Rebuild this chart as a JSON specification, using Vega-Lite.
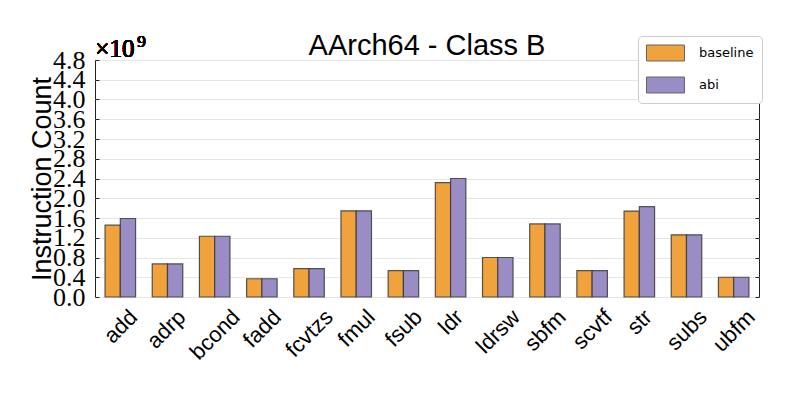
{
  "$schema": "https://vega.github.io/schema/vega-lite/v6.json",
  "autosize": {"type": "none"},
  "width": 664,
  "height": 237,
  "padding": {"left": 95, "top": 60, "right": 34, "bottom": 100},
  "background": "white",
  "title": {"text": "AArch64 - Class B", "font": "Liberation Sans", "fontSize": 29, "fontWeight": "normal", "color": "#000", "offset": 4, "anchor": "middle", "dy": 32},
  "config": {
    "view": {"stroke": "#222", "strokeWidth": 1},
    "axis": {"domainColor": "#222", "tickColor": "#222"}
  },
  "data": {"values": [
    {"op": "add", "config": "baseline", "count": 1454000000},
    {"op": "add", "config": "abi", "count": 1590000000},
    {"op": "adrp", "config": "baseline", "count": 670000000},
    {"op": "adrp", "config": "abi", "count": 670000000},
    {"op": "bcond", "config": "baseline", "count": 1230000000},
    {"op": "bcond", "config": "abi", "count": 1230000000},
    {"op": "fadd", "config": "baseline", "count": 370000000},
    {"op": "fadd", "config": "abi", "count": 370000000},
    {"op": "fcvtzs", "config": "baseline", "count": 575000000},
    {"op": "fcvtzs", "config": "abi", "count": 575000000},
    {"op": "fmul", "config": "baseline", "count": 1746000000},
    {"op": "fmul", "config": "abi", "count": 1746000000},
    {"op": "fsub", "config": "baseline", "count": 534000000},
    {"op": "fsub", "config": "abi", "count": 534000000},
    {"op": "ldr", "config": "baseline", "count": 2315000000},
    {"op": "ldr", "config": "abi", "count": 2400000000},
    {"op": "ldrsw", "config": "baseline", "count": 800000000},
    {"op": "ldrsw", "config": "abi", "count": 800000000},
    {"op": "sbfm", "config": "baseline", "count": 1480000000},
    {"op": "sbfm", "config": "abi", "count": 1480000000},
    {"op": "scvtf", "config": "baseline", "count": 534000000},
    {"op": "scvtf", "config": "abi", "count": 534000000},
    {"op": "str", "config": "baseline", "count": 1740000000},
    {"op": "str", "config": "abi", "count": 1830000000},
    {"op": "subs", "config": "baseline", "count": 1260000000},
    {"op": "subs", "config": "abi", "count": 1260000000},
    {"op": "ubfm", "config": "baseline", "count": 400000000},
    {"op": "ubfm", "config": "abi", "count": 400000000}
  ]},
  "layer": [
    {
      "mark": {"type": "bar", "stroke": "#3a3a3a", "strokeWidth": 1.2, "strokeOpacity": 0.85},
      "encoding": {
        "x": {
          "field": "op", "type": "nominal", "sort": null,
          "scale": {"paddingInner": 0.353, "paddingOuter": 0.213},
          "axis": {
            "title": null, "labelAngle": -45, "labelAlign": "right", "labelBaseline": "top",
            "labelFont": "Liberation Sans", "labelFontSize": 22, "labelColor": "#000", "ticks": false, "labelPadding": 9, "domain": false,
            "labelOverlap": false, "labelBound": false, "labelFlush": false,
            "labelOffset": {
              "condition": [
                {"test": "datum.value === 'add'", "value": 6.3},
                {"test": "datum.value === 'adrp'", "value": 7.3},
                {"test": "datum.value === 'bcond'", "value": 14.5},
                {"test": "datum.value === 'fadd'", "value": 8.5},
                {"test": "datum.value === 'fcvtzs'", "value": 13.2},
                {"test": "datum.value === 'fmul'", "value": 8},
                {"test": "datum.value === 'fsub'", "value": 8},
                {"test": "datum.value === 'ldr'", "value": 1.9},
                {"test": "datum.value === 'ldrsw'", "value": 11.5},
                {"test": "datum.value === 'sbfm'", "value": 10.2},
                {"test": "datum.value === 'scvtf'", "value": 9.3},
                {"test": "datum.value === 'str'", "value": 1.9},
                {"test": "datum.value === 'subs'", "value": 9.8},
                {"test": "datum.value === 'ubfm'", "value": 10.6}
              ],
              "value": 0
            }
          }
        },
        "xOffset": {"field": "config", "type": "nominal", "sort": ["baseline", "abi"], "scale": {"paddingInner": 0}},
        "y": {
          "field": "count", "type": "quantitative",
          "scale": {"domain": [0, 4800000000], "nice": false, "zero": true},
          "axis": {
            "title": "Instruction Count", "titleFont": "Liberation Sans", "titleFontSize": 27, "titleFontWeight": "normal", "titleColor": "#000", "titlePadding": -4,
            "values": [0, 400000000, 800000000, 1200000000, 1600000000, 2000000000, 2400000000, 2800000000, 3200000000, 3600000000, 4000000000, 4400000000, 4800000000],
            "labelExpr": "format(datum.value / 1e9, '.1f')",
            "labelFont": "Liberation Serif", "labelFontSize": 26, "labelColor": "#000", "labelOverlap": false, "labelBound": false, "labelFlush": false,
            "tickSize": -4, "labelPadding": 14,
            "grid": true, "gridColor": "#e6e6e6", "gridWidth": 1, "domain": false
          }
        },
        "color": {
          "field": "config", "type": "nominal",
          "scale": {"domain": ["baseline", "abi"], "range": ["#f0a23c", "#9a8dc5"]},
          "legend": {
            "title": null, "orient": "none", "legendX": 543, "legendY": -24,
            "direction": "vertical",
            "symbolType": "M-1,-0.94H3.47V0.94H-1Z", "symbolSize": 289, "symbolStrokeColor": "#666", "symbolStrokeWidth": 1, "symbolOpacity": 1,
            "labelFont": "DejaVu Sans", "labelFontSize": 13, "labelColor": "#000", "labelOffset": 35,
            "rowPadding": 12, "padding": 8,
            "fillColor": "white", "strokeColor": "#cccccc", "cornerRadius": 4
          }
        }
      }
    },
    {
      "mark": {"type": "text", "text": "×10", "font": "Liberation Serif", "fontSize": 25, "align": "left", "baseline": "alphabetic", "dx": -25, "dy": -3, "color": "#000"},
      "encoding": {
        "x": {"datum": "add"},
        "y": {
          "datum": 4800000000,
          "axis": {"orient": "right", "title": null, "labels": false, "grid": false, "domain": false, "tickSize": -4,
            "values": [0, 400000000, 800000000, 1200000000, 1600000000, 2000000000, 2400000000, 2800000000, 3200000000, 3600000000, 4000000000, 4400000000, 4800000000]}
        }
      }
    },
    {
      "mark": {"type": "text", "text": "9", "font": "Liberation Serif", "fontSize": 17, "align": "left", "baseline": "alphabetic", "dx": 17, "dy": -13, "color": "#000"},
      "encoding": {
        "x": {"datum": "add"},
        "y": {"datum": 4800000000, "axis": null}
      }
    }
  ],
  "resolve": {"axis": {"y": "independent"}}
}
